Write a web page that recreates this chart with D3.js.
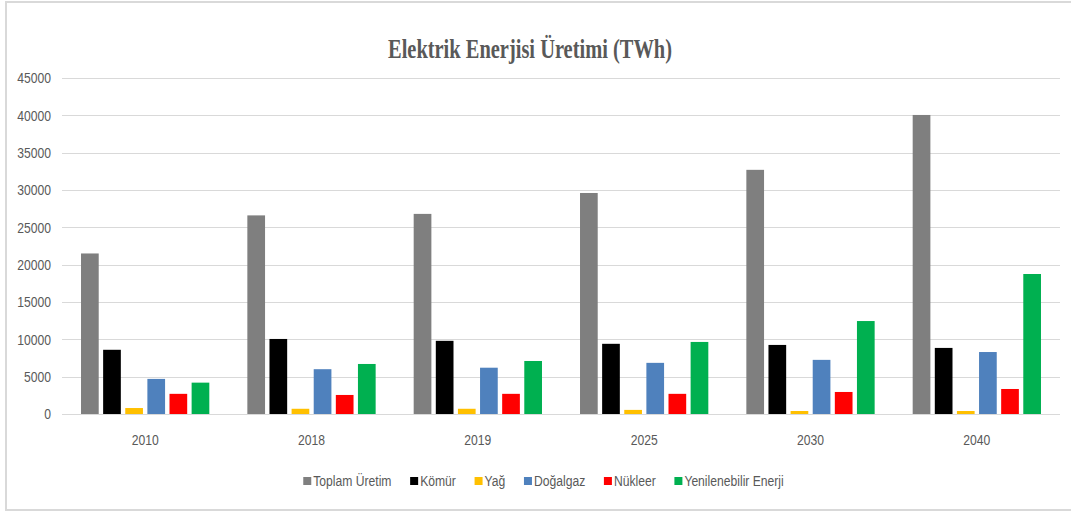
<!DOCTYPE html>
<html><head><meta charset="utf-8">
<script src="https://cdn.jsdelivr.net/npm/d3@7/dist/d3.min.js"></script>
<style>body{margin:0;background:#fff}svg{display:block}</style>
</head><body>
<svg id="c" width="1071" height="513"></svg>
<script>
const years = ["2010","2018","2019","2025","2030","2040"];
const seriesNames = ["Toplam Üretim","Kömür","Yağ","Doğalgaz","Nükleer","Yenilenebilir Enerji"];
const seriesColors = ["#7f7f7f","#000000","#ffc000","#4f81bd","#ff0000","#00b050"];
const toplam = [21500,26600,26800,29600,32700,40050];
const komur = [8600,10050,9800,9400,9250,8850];
const yag = [800,700,700,550,400,400];
const dogalgaz = [4700,6000,6200,6850,7250,8300];
const nukleer = [2700,2550,2700,2700,2950,3350];
const yenilenebilir = [4200,6700,7100,9650,12450,18750];
const yTicks = [0,5000,10000,15000,20000,25000,30000,35000,40000,45000];
const values = [toplam,komur,yag,dogalgaz,nukleer,yenilenebilir];

const svg = d3.select("#c");
const sans = "'Liberation Sans',Arial,sans-serif";
const FS = 15, SX = 0.81;

svg.append("rect").attr("x",6).attr("y",2).attr("width",1080).attr("height",508)
  .attr("fill","#fff").attr("stroke","#d9d9d9").attr("stroke-width",2);

const L=62, R=1060, T=78, B=414;
const y = d3.scaleLinear().domain([0,45000]).range([B,T]);
const x0 = d3.scaleBand().domain(years).range([L,R]).padding(0);
const inner = 128.3;
const x1 = d3.scaleBand().domain(d3.range(6)).range([0,inner]).paddingInner(0.2).paddingOuter(0);
const off = (x0.bandwidth()-inner)/2;

// gridlines
svg.append("g").selectAll("line").data(yTicks).join("line")
  .attr("x1",L).attr("x2",R).attr("y1",d=>Math.round(y(d))+0.5).attr("y2",d=>Math.round(y(d))+0.5)
  .attr("stroke","#d9d9d9").attr("stroke-width",1);

// y axis labels
const yAxis = d3.axisLeft(y).tickValues(yTicks).tickSize(0).tickPadding(0).tickFormat(d3.format("d"));
const ga = svg.append("g").attr("transform",`translate(51,0)`).call(yAxis);
ga.select(".domain").remove();
ga.selectAll("text").attr("font-family",sans).attr("font-size",FS).attr("fill","#595959")
  .attr("transform",`scale(${SX},1)`);

// x axis labels
const xAxis = d3.axisBottom(x0).tickSize(0).tickPadding(0);
const gx = svg.append("g").attr("transform",`translate(0,${B})`).call(xAxis);
gx.select(".domain").remove();
gx.selectAll("text").attr("font-family",sans).attr("font-size",FS).attr("fill","#595959")
  .attr("dy",null).attr("y",31).attr("transform",`scale(${SX},1)`);

// bars
const groups = svg.append("g").selectAll("g").data(years).join("g")
  .attr("transform",d=>`translate(${x0(d)+off},0)`);
groups.selectAll("rect").data((d,i)=>values.map((s,k)=>({k,v:s[i]}))).join("rect")
  .attr("x",d=>x1(d.k)).attr("width",x1.bandwidth())
  .attr("y",d=>y(d.v)).attr("height",d=>B-y(d.v))
  .attr("fill",d=>seriesColors[d.k]);

// title
svg.append("text").attr("x",530).attr("y",58).attr("text-anchor","middle")
  .attr("font-family","'Liberation Serif','Times New Roman',serif").attr("font-weight","bold")
  .attr("font-size",27).attr("fill","#595959")
  .attr("textLength",284).attr("lengthAdjust","spacingAndGlyphs")
  .text("Elektrik Enerjisi Üretimi (TWh)");

// legend
const lg = svg.append("g");
const items = lg.selectAll("g").data(seriesNames).join("g");
items.append("rect").attr("width",8).attr("height",8).attr("y",-4).attr("fill",(d,i)=>seriesColors[i]);
items.append("text").attr("x",0).attr("y",0).attr("dy","0.35em")
  .attr("font-family",sans).attr("font-size",FS).attr("fill","#595959")
  .attr("transform",`translate(10,0) scale(${SX},1)`).text(d=>d);
let cx=0; const pos=[];
items.each(function(d,i){ const w=this.querySelector("text").getComputedTextLength()*SX; pos.push(cx); cx+=10+w+18.7; });
const total = cx-18.7;
const startX = 543.5-total/2;
items.attr("transform",(d,i)=>`translate(${startX+pos[i]},481)`);
</script>
</body></html>
